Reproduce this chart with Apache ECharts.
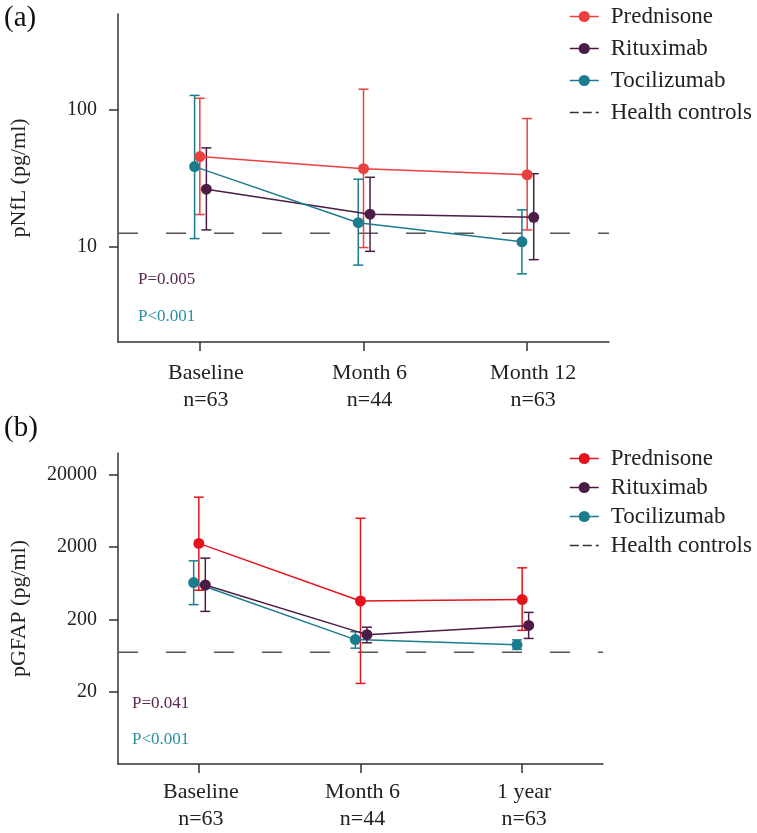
<!DOCTYPE html>
<html>
<head>
<meta charset="utf-8">
<script src="https://cdn.jsdelivr.net/npm/echarts@6/dist/echarts.min.js"></script>
<style>
  html, body { margin: 0; padding: 0; background: #fff; }
  #chart { width: 757px; height: 833px; }
</style>
</head>
<body>
<div id="chart"></div>
<script>
// categories + group names
const nflCategories = ['Baseline\nn=63', 'Month 6\nn=44', 'Month 12\nn=63']
const gfapCategories = ['Baseline\nn=63', 'Month 6\nn=44', '1 year\nn=63']
const groups = ['Prednisone', 'Rituximab', 'Tocilizumab']

// (a) pNfL, pg/ml  -- median + range
const nflPred = [45.4, 37, 33.4]
const nflPredLow = [17.1, 9.8, 13.2]
const nflPredHigh = [121, 141, 86]
const nflRitu = [26.2, 17.2, 16.3]
const nflRituLow = [13.2, 9.2, 8.0]
const nflRituHigh = [52.5, 32, 34]
const nflToci = [38.3, 14.9, 10.8]
const nflTociLow = [11.4, 7.3, 6.3]
const nflTociHigh = [127, 31, 18.5]
const nflHealth = 12.5
const nflTicks = [10, 100]

// (b) pGFAP, pg/ml
const gfapPred = [2250, 359, 376]
const gfapPredLow = [506, 26, 141]
const gfapPredHigh = [9800, 5000, 1033]
const gfapRitu = [598, 123, 165]
const gfapRituLow = [258, 95, 109]
const gfapRituHigh = [1406, 156, 250]
const gfapToci = [646, 105, 89]
const gfapTociLow = [320, 80, 77]
const gfapTociHigh = [1290, 135, 104]
const gfapHealth = 70
const gfapTicks = [20, 200, 2000, 20000]

// p values shown in the corner
const nflPValues = ['P=0.005', 'P<0.001']
const gfapPValues = ['P=0.041', 'P<0.001']

// styling
const font = 'Liberation Serif'
const axisColor = '#333'
const colorsA = ['#e9413e', '#4b1c45', '#1b7c8e']
const colorsB = ['#e5141c', '#4b1c45', '#1b7c8e']
const pColors = ['#5a2750', '#2a8fa3']
const dodge = [0, 0.04, -0.032] // small horizontal shift per group (category units)

function errorBar(color) {
  return function (params, api) {
    const lo = api.coord([api.value(0), api.value(1)])
    const hi = api.coord([api.value(0), api.value(2)])
    const w = 5
    const st = { stroke: color, lineWidth: 1.5 }
    return {
      type: 'group',
      children: [
        { type: 'line', shape: { x1: lo[0], y1: lo[1], x2: hi[0], y2: hi[1] }, style: st },
        { type: 'line', shape: { x1: hi[0] - w, y1: hi[1], x2: hi[0] + w, y2: hi[1] }, style: st },
        { type: 'line', shape: { x1: lo[0] - w, y1: lo[1], x2: lo[0] + w, y2: lo[1] }, style: st }
      ]
    }
  }
}

function panelSeries(idx, means, lows, highs, colors, health) {
  const list = []
  groups.forEach((name, g) => {
    // error bars first so the dots sit on top
    list.push({
      type: 'custom',
      xAxisIndex: idx,
      yAxisIndex: idx,
      encode: { x: 0, y: [1, 2] },
      data: lows[g].map((lo, i) => [i + dodge[g], lo, highs[g][i]]),
      renderItem: errorBar(colors[g]),
      z: 2
    })
    list.push({
      name: name,
      type: 'line',
      xAxisIndex: idx,
      yAxisIndex: idx,
      data: means[g].map((v, i) => [i + dodge[g], v]),
      symbol: 'circle',
      symbolSize: 11,
      lineStyle: { width: 1.5, color: colors[g] },
      itemStyle: { color: colors[g] },
      z: 3
    })
  })
  list.push({
    name: 'Health controls',
    type: 'line',
    xAxisIndex: idx,
    yAxisIndex: idx,
    data: [[-0.5, health], [2.5, health]],
    symbol: 'none',
    itemStyle: { color: '#555' },
    lineStyle: { type: [20, 28], color: '#555', width: 1.5 },
    z: 1
  })
  return list
}

function xAxisFor(idx, cats, padLeft, margin) {
  return {
    type: 'value',
    gridIndex: idx,
    min: -0.5,
    max: 2.5,
    splitLine: { show: false },
    axisLine: { onZero: false, lineStyle: { color: axisColor, width: 1.5 } },
    axisTick: { customValues: [0, 1, 2], length: 9, lineStyle: { color: axisColor, width: 1.5 } },
    axisLabel: {
      customValues: [0, 1, 2],
      formatter: (v) => cats[Math.round(v)],
      fontFamily: font,
      fontSize: 22,
      lineHeight: 27,
      color: '#222',
      margin: margin,
      padding: [0, 0, 0, padLeft]
    }
  }
}

function yAxisFor(idx, name, min, max, ticks) {
  return {
    type: 'log',
    logBase: 10,
    gridIndex: idx,
    min: min,
    max: max,
    name: name,
    nameLocation: 'middle',
    nameGap: 88,
    nameTextStyle: { fontFamily: font, fontSize: 22, color: '#222' },
    splitLine: { show: false },
    axisLine: { show: true, onZero: false, lineStyle: { color: axisColor, width: 1.5 } },
    axisTick: { show: true, customValues: ticks, length: 9, lineStyle: { color: axisColor, width: 1.5 } },
    axisLabel: {
      customValues: ticks,
      formatter: (v) => String(Math.round(v)),
      fontFamily: font,
      fontSize: 20,
      color: '#222',
      margin: 21
    },
    minorTick: { show: false }
  }
}

function legendFor(top, colors, gap) {
  const items = groups.map((n, g) => ({
    name: n,
    itemStyle: { color: colors[g] },
    lineStyle: { color: colors[g], width: 1.5 }
  }))
  items.push({
    name: 'Health controls',
    itemStyle: { opacity: 0 },
    lineStyle: { color: '#333', type: [9, 4], width: 1.5 }
  })
  return {
    orient: 'vertical',
    left: 564,
    top: top,
    itemWidth: 29,
    itemHeight: 14,
    itemGap: gap,
    selectedMode: false,
    textStyle: { fontFamily: font, fontSize: 23, color: '#222', padding: [0, 0, 0, 7] },
    data: items
  }
}

function pText(x, y, str, color) {
  return { type: 'text', left: x, top: y, style: { text: str, fill: color, font: '17px "Liberation Serif"' } }
}

const chart = echarts.init(document.getElementById('chart'))
chart.setOption({
  animation: false,
  backgroundColor: '#fff',
  grid: [
    { left: 116, top: 14, right: 148, bottom: 491 },
    { left: 114, top: 453, right: 154, bottom: 69 }
  ],
  xAxis: [xAxisFor(0, nflCategories, 12, 18), xAxisFor(1, gfapCategories, 4, 15)],
  yAxis: [
    yAxisFor(0, 'pNfL (pg/ml)', 2, 500, nflTicks),
    yAxisFor(1, 'pGFAP (pg/ml)', 2, 40000, gfapTicks)
  ],
  legend: [legendFor(0, colorsA, 9), legendFor(442, colorsB, 6)],
  graphic: [
    { type: 'text', left: 4, top: 4, style: { text: '(a)', fill: '#111', font: '29px "Liberation Serif"' } },
    { type: 'text', left: 4, top: 414, style: { text: '(b)', fill: '#111', font: '29px "Liberation Serif"' } },
    pText(138, 271, nflPValues[0], pColors[0]),
    pText(138, 308, nflPValues[1], pColors[1]),
    pText(132, 695, gfapPValues[0], pColors[0]),
    pText(132, 731, gfapPValues[1], pColors[1])
  ],
  series: [
    ...panelSeries(0, [nflPred, nflRitu, nflToci], [nflPredLow, nflRituLow, nflTociLow],
      [nflPredHigh, nflRituHigh, nflTociHigh], colorsA, nflHealth),
    ...panelSeries(1, [gfapPred, gfapRitu, gfapToci], [gfapPredLow, gfapRituLow, gfapTociLow],
      [gfapPredHigh, gfapRituHigh, gfapTociHigh], colorsB, gfapHealth)
  ]
})
</script>
</body>
</html>
